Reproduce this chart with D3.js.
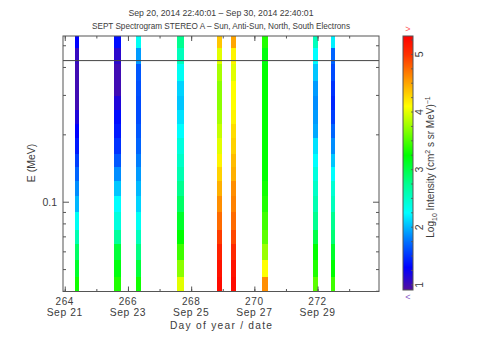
<!DOCTYPE html>
<html><head><meta charset="utf-8">
<script src="https://cdn.jsdelivr.net/npm/d3@7"></script>
<style>
body{margin:0;background:#fff}
svg{display:block}
text{font-family:"Liberation Sans",Arial,sans-serif;fill:#3c3c3c}
</style>
</head><body>
<svg id="chart" width="480" height="360"></svg>
<script>
// ---------- data ----------
const titleLine1 = "Sep 20, 2014 22:40:01 \u2013 Sep 30, 2014 22:40:01";
const titleLine2 = "SEPT Spectrogram STEREO A \u2013 Sun, Anti-Sun, North, South Electrons";
const xTitle = "Day of year / date";
const yTitle = "E (MeV)";
const xDomain = [263.9444, 273.9444];
const xMinorTicks = [264, 265, 266, 267, 268, 269, 270, 271, 272, 273];
const xMajorTicks = [264, 266, 268, 270, 272];
const xDateLabels = ["Sep 21", "Sep 23", "Sep 25", "Sep 27", "Sep 29"];
const energyEdges = [0.0397, 0.0463, 0.0549, 0.0652, 0.0748, 0.0902, 0.106, 0.124, 0.143, 0.164, 0.194, 0.224, 0.257, 0.299, 0.349, 0.416, 0.489, 0.55];
const yMinorTicks = [0.04, 0.05, 0.06, 0.07, 0.08, 0.09, 0.2, 0.3, 0.4, 0.5];
const yMajorTicks = [0.1];
const refLineEnergy = 0.427;
const barStart = [264.314, 265.567, 266.254, 267.540, 268.830, 269.260, 270.250, 271.846, 272.415];
const barEnd   = [264.450, 265.770, 266.400, 267.770, 268.985, 269.420, 270.420, 272.000, 272.550];
// log10 intensity per energy bin, lowest energy first
const bar1 = [3.3, 3.1, 2.9, 2.6, 2.3, 2.0, 1.85, 1.7, 1.55, 1.4, 1.3, 1.15, 1.0, 1.0, 1.0, 1.05, 1.3];
const bar2 = [3.35, 3.2, 3.05, 2.7, 2.4, 2.25, 2.05, 1.85, 1.65, 1.5, 1.4, 1.35, 1.15, 1.0, 1.0, 1.1, 1.35];
const bar3 = [3.3, 3.05, 2.8, 2.55, 2.3, 2.1, 2.0, 1.9, 1.8, 1.7, 1.65, 1.6, 1.6, 1.62, 1.65, 1.9, 2.3];
const bar4 = [4.0, 3.7, 3.45, 3.25, 3.1, 2.9, 2.75, 2.6, 2.5, 2.4, 2.25, 2.15, 2.05, 2.1, 2.3, 2.55, 2.75];
const bar5 = [5.25, 5.2, 5.1, 4.95, 4.75, 4.6, 4.45, 4.3, 4.15, 4.0, 3.9, 3.8, 3.7, 3.7, 3.8, 4.0, 4.35];
const bar6 = [5.25, 5.2, 5.05, 4.9, 4.75, 4.65, 4.6, 4.45, 4.4, 4.3, 4.25, 4.15, 4.1, 4.1, 4.0, 4.15, 4.5];
const bar7 = [4.6, 4.1, 3.75, 3.55, 3.45, 3.35, 3.3, 3.25, 3.25, 3.25, 3.25, 3.25, 3.25, 3.25, 3.25, 3.2, 3.35];
const bar8 = [3.55, 3.35, 3.25, 3.0, 2.75, 2.6, 2.5, 2.4, 2.25, 2.15, 1.95, 1.9, 1.85, 1.9, 2.05, 2.25, 2.55];
const bar9 = [3.45, 3.25, 3.1, 2.85, 2.75, 2.55, 2.45, 2.25, 2.05, 1.85, 1.7, 1.55, 1.45, 1.5, 1.6, 1.7, 2.2];
const bars = [bar1, bar2, bar3, bar4, bar5, bar6, bar7, bar8, bar9];
const colorDomain = [0.91, 5.32];
const colorbarTicks = [1, 2, 3, 4, 5];
const colorStopValues = [0.91, 1.3, 1.75, 2.25, 2.75, 3.25, 3.75, 4.1, 4.55, 5.0, 5.32];
const colorStops = ["#540f9e", "#0000ff", "#0070ff", "#00ffff", "#00ff90", "#00ff00", "#9aff00", "#ffff00", "#ff9a00", "#ff3000", "#ff0000"];

// ---------- layout ----------
const svg = d3.select("#chart");
const L = 63, R = 379, T = 36, B = 291.5;
const axisColor = "#555";

const x = d3.scaleLinear().domain(xDomain).range([L, R]);
const y = d3.scaleLog().domain([energyEdges[0], energyEdges[energyEdges.length - 1]]).range([B, T]);
const color = d3.scaleLinear().domain(colorStopValues).range(colorStops).interpolate(d3.interpolateRgb).clamp(true);

// titles
svg.append("text").attr("x", 221).attr("y", 15.5).attr("text-anchor", "middle")
  .attr("font-size", 8.7).attr("textLength", 185).attr("lengthAdjust", "spacing").text(titleLine1);
svg.append("text").attr("x", 221).attr("y", 29).attr("text-anchor", "middle")
  .attr("font-size", 8.2).attr("textLength", 258).attr("lengthAdjust", "spacing").text(titleLine2);

// spectrogram cells
const cells = [];
bars.forEach((vals, i) => {
  vals.forEach((v, j) => cells.push({t0: barStart[i], t1: barEnd[i], e0: energyEdges[j], e1: energyEdges[j + 1], v}));
});
svg.append("g").selectAll("rect").data(cells).join("rect")
  .attr("x", d => x(d.t0)).attr("width", d => x(d.t1) - x(d.t0))
  .attr("y", d => y(d.e1)).attr("height", d => y(d.e0) - y(d.e1) + 0.4)
  .attr("fill", d => color(d.v)).attr("shape-rendering", "crispEdges");

// reference line
svg.append("line").attr("x1", L).attr("x2", R).attr("y1", y(refLineEnergy)).attr("y2", y(refLineEnergy))
  .attr("stroke", "#444").attr("stroke-width", 1);

// axes (ticks pointing inward, mirrored on all sides)
function styleAxis(g) {
  g.select(".domain").remove();
  g.selectAll(".tick line").attr("stroke", axisColor);
  g.selectAll(".tick text").remove();
}
svg.append("g").attr("transform", `translate(0,${B})`).call(d3.axisBottom(x).tickValues(xMinorTicks).tickSize(-2.5)).call(styleAxis);
svg.append("g").attr("transform", `translate(0,${B})`).call(d3.axisBottom(x).tickValues(xMajorTicks).tickSize(-5)).call(styleAxis);
svg.append("g").attr("transform", `translate(0,${T})`).call(d3.axisTop(x).tickValues(xMinorTicks).tickSize(-2.5)).call(styleAxis);
svg.append("g").attr("transform", `translate(0,${T})`).call(d3.axisTop(x).tickValues(xMajorTicks).tickSize(-5)).call(styleAxis);
svg.append("g").attr("transform", `translate(${L},0)`).call(d3.axisLeft(y).tickValues(yMinorTicks).tickSize(-3)).call(styleAxis);
svg.append("g").attr("transform", `translate(${L},0)`).call(d3.axisLeft(y).tickValues(yMajorTicks).tickSize(-6)).call(styleAxis);
svg.append("g").attr("transform", `translate(${R},0)`).call(d3.axisRight(y).tickValues(yMinorTicks).tickSize(-3)).call(styleAxis);
svg.append("g").attr("transform", `translate(${R},0)`).call(d3.axisRight(y).tickValues(yMajorTicks).tickSize(-6)).call(styleAxis);

// frame
svg.append("rect").attr("x", L).attr("y", T).attr("width", R - L).attr("height", B - T)
  .attr("fill", "none").attr("stroke", axisColor).attr("stroke-width", 1);

// x labels
const xl = svg.append("g");
xMajorTicks.forEach((d, i) => {
  xl.append("text").attr("x", x(d)).attr("y", 304.5).attr("text-anchor", "middle").attr("font-size", 10)
    .attr("letter-spacing", 0.6).text(d);
  xl.append("text").attr("x", x(d)).attr("y", 316).attr("text-anchor", "middle").attr("font-size", 10.3)
    .attr("letter-spacing", 0.6).text(xDateLabels[i]);
});
svg.append("text").attr("x", 221).attr("y", 329).attr("text-anchor", "middle").attr("font-size", 10.2)
  .attr("textLength", 102).attr("lengthAdjust", "spacing").text(xTitle);

// y labels
yMajorTicks.forEach(d => {
  svg.append("text").attr("x", 57).attr("y", y(d) + 3.8).attr("text-anchor", "end").attr("font-size", 10.5).text(d);
});
svg.append("text").attr("transform", "translate(35,163) rotate(-90)").attr("text-anchor", "middle")
  .attr("font-size", 10.5).text(yTitle);

// colorbar
const cbL = 403, cbW = 10, cbT = 36, cbB = 290;
const cy = d3.scaleLinear().domain(colorDomain).range([cbB, cbT]);
const cbRows = d3.range(cbT, cbB, 1);
svg.append("g").selectAll("rect").data(cbRows).join("rect")
  .attr("x", cbL).attr("width", cbW).attr("y", d => d).attr("height", 1.2)
  .attr("fill", d => color(cy.invert(d + 0.5))).attr("shape-rendering", "crispEdges");
svg.append("rect").attr("x", cbL).attr("y", cbT).attr("width", cbW).attr("height", cbB - cbT)
  .attr("fill", "none").attr("stroke", axisColor).attr("stroke-width", 1);
const cbMinor = d3.range(1, 5.31, 0.25);
svg.append("g").selectAll("line").data(cbMinor).join("line")
  .attr("x1", cbL + cbW - 2).attr("x2", cbL + cbW).attr("y1", d => cy(d)).attr("y2", d => cy(d))
  .attr("stroke", axisColor).attr("stroke-width", 0.8);
colorbarTicks.forEach(d => {
  svg.append("text").attr("transform", `translate(423.3,${cy(d)}) rotate(-90)`).attr("text-anchor", "middle")
    .attr("font-size", 10.5).text(d);
});
const cbt = svg.append("text").attr("transform", "translate(434,167) rotate(-90)").attr("text-anchor", "middle")
  .attr("font-size", 10);
cbt.append("tspan").text("Log");
cbt.append("tspan").attr("font-size", 7).attr("dy", 2.5).text("10");
cbt.append("tspan").attr("dy", -2.5).text(" Intensity (cm");
cbt.append("tspan").attr("font-size", 7).attr("dy", -4).text("2");
cbt.append("tspan").attr("dy", 4).text(" s  sr  MeV)");
cbt.append("tspan").attr("font-size", 7).attr("dy", -4).text("\u22121");
svg.append("text").attr("x", 408).attr("y", 31.5).attr("text-anchor", "middle").attr("font-size", 9)
  .style("fill", "#ff5a5a").text(">");
svg.append("text").attr("x", 408).attr("y", 300).attr("text-anchor", "middle").attr("font-size", 9)
  .style("fill", "#8a5cc8").text("<");
</script>
</body></html>
